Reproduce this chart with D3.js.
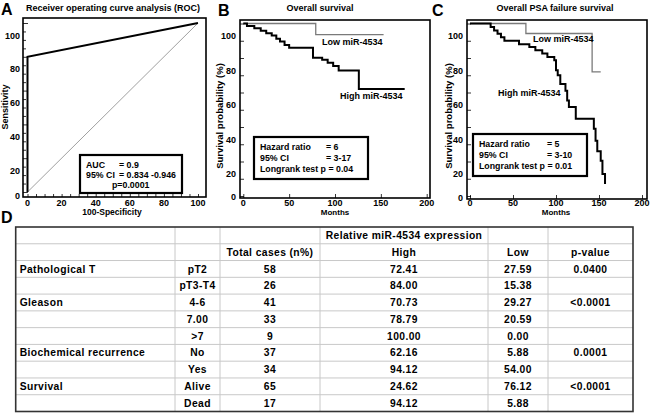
<!DOCTYPE html>
<html><head><meta charset="utf-8">
<script src="https://cdn.jsdelivr.net/npm/d3@7"></script>
<style>
body{margin:0;background:#fff;}
svg{display:block;font-family:"Liberation Sans",Arial,sans-serif;font-weight:bold;}
</style></head>
<body><svg id="c" width="650" height="414"></svg>
<script>
// ---------- DATA ----------
const rocPoints = [[0,0],[0,80],[100,100]];
const rocDiagonal = [[0,0],[100,100]];
const rocTicks = [0,20,40,60,80,100];
const rocText = [["AUC","= 0.9"],["95% CI","= 0.834 -0.946"]];
const rocP = "p=0.0001";

const osHigh = [[0,100],[4,98.6],[12,97.2],[19,95.8],[25,94.4],[31,93.0],[36,91.2],[40,89.6],[45,87.6],[50,86.0],[76,80.2],[86,79.0],[92,77.2],[98,75.4],[104,72.8],[126,62.0],[176,62.0]];
const osLow = [[0,100],[79,93.5],[153,93.5]];
const osStats = [["Hazard ratio","= 6"],["95% CI","= 3-17"],["Longrank test p = 0.04",""]];

const psaHigh = [[0,100],[24,98],[28,96],[32,94],[36,92],[40,90],[57,88],[69,86.4],[76,84.5],[84,82.6],[90,80.6],[98,78.7],[100,72.9],[102,70],[105,65],[111,61],[113,55.4],[115,51.6],[123,44.8],[144,39],[146,32],[148,26],[152,20.5],[154,12.8],[157,7]];
const psaLow = [[0,100],[65,94.2],[142,72],[152,72]];
const psaStats = [["Hazard ratio","= 5"],["95% CI","= 3-10"],["Longrank test p = 0.01",""]];

const kmYTicks = [0,20,40,60,80,100];
const kmXTicks = [0,50,100,150,200];

const tableHeader1 = ["","","","Relative miR-4534 expression","",""];
const tableHeader2 = ["","","Total cases (n%)","High","Low","p-value"];
const tableVariable = ["Pathological T","","Gleason","","","Biochemical recurrence","","Survival",""];
const tableGroup = ["pT2","pT3-T4","4-6","7.00",">7","No","Yes","Alive","Dead"];
const tableTotal = ["58","26","41","33","9","37","34","65","17"];
const tableHigh = ["72.41","84.00","70.73","78.79","100.00","62.16","94.12","24.62","94.12"];
const tableLow = ["27.59","15.38","29.27","20.59","0.00","5.88","54.00","76.12","5.88"];
const tablePval = ["0.0400","","<0.0001","","","0.0001","","<0.0001",""];

// ---------- DRAW ----------
const svg = d3.select("#c");

function panelLetter(t,x,y){ svg.append("text").attr("x",x).attr("y",y).attr("font-size",16).text(t); }
function title(t,x,y){ svg.append("text").attr("x",x).attr("y",y).attr("text-anchor","middle").attr("font-size",9).text(t); }

function frame(l,t,r,b){
  svg.append("rect").attr("x",l).attr("y",t).attr("width",r-l).attr("height",b-t)
    .attr("fill","none").attr("stroke","#000").attr("stroke-width",1.6);
}

function yAxisLabels(y, ticks, xRight, bottom){
  svg.append("g").selectAll("text").data(ticks).join("text")
    .attr("x",xRight).attr("text-anchor","end").attr("font-size",9)
    .attr("y",d=>Math.min(y(d)+15.5, bottom+2))
    .text(d=>d);
}

function statBox(x0,y0,w,h,rows,col2x,lh){
  svg.append("rect").attr("x",x0).attr("y",y0).attr("width",w).attr("height",h)
    .attr("fill","#fff").attr("stroke","#000").attr("stroke-width",2.2);
  rows.forEach((r,i)=>{
    svg.append("text").attr("x",x0+6).attr("y",y0+13+i*lh).attr("font-size",8.8).text(r[0]);
    if(r[1]) svg.append("text").attr("x",col2x).attr("y",y0+13+i*lh).attr("font-size",8.8).text(r[1]);
  });
}

// ===== Panel A =====
{
  const L=23,T=18,R=206,B=197;
  const x=d3.scaleLinear().domain([0,100]).range([27.5,198]);
  const y=d3.scaleLinear().domain([0,100]).range([192,23]);
  panelLetter("A",1,15);
  title("Receiver operating curve analysis (ROC)",113,11);
  frame(L,T,R,B);
  svg.append("g").attr("transform",`translate(${L},0)`)
    .call(d3.axisRight(y).tickValues(d3.range(0,101,5)).tickSize(4).tickFormat(""))
    .call(g=>g.select(".domain").remove())
    .call(g=>g.selectAll("line").attr("stroke-width",0.8).attr("x2",d=>d%20===0?5:3));
  svg.append("g").attr("transform",`translate(0,${B})`)
    .call(d3.axisTop(x).tickValues(d3.range(0,101,5)).tickSize(3).tickFormat(""))
    .call(g=>g.select(".domain").remove())
    .call(g=>g.selectAll("line").attr("stroke-width",0.8));
  yAxisLabels(y,rocTicks,20,B);
  svg.append("g").selectAll("text").data(rocTicks).join("text")
    .attr("x",d=>x(d)).attr("y",206).attr("text-anchor","middle").attr("font-size",9).text(d=>d);
  svg.append("text").attr("x",112).attr("y",214.5).attr("text-anchor","middle").attr("font-size",8.5).text("100-Specificity");
  svg.append("text").attr("transform","translate(8,107) rotate(-90)").attr("text-anchor","middle").attr("font-size",9).text("Sensitivity");
  const line=d3.line().x(d=>x(d[0])).y(d=>y(d[1]));
  svg.append("path").attr("d",line(rocDiagonal)).attr("fill","none").attr("stroke","#888").attr("stroke-width",0.8);
  svg.append("path").attr("d",line(rocPoints)).attr("fill","none").attr("stroke","#000").attr("stroke-width",2);
  statBox(80,155,102,38,rocText,119,10);
  svg.append("text").attr("x",112).attr("y",155+33).attr("font-size",8.8).text(rocP);
}

// ===== KM panels =====
function kmPanel(opt){
  const {L,T,R,B,x0,x1,letter,lx,ttl,tx,high,low,stats,box,lowLab,highLab,ytx,xlabX} = opt;
  const x=d3.scaleLinear().domain([0,200]).range([x0,x1]);
  const y=d3.scaleLinear().domain([0,100]).range([196,23.5]);
  panelLetter(letter,lx,16);
  title(ttl,tx,11);
  frame(L,T,R,B);
  svg.append("g").attr("transform",`translate(${L},0)`)
    .call(d3.axisRight(y).tickValues(d3.range(0,101,10)).tickSize(4).tickFormat(""))
    .call(g=>g.select(".domain").remove())
    .call(g=>g.selectAll("line").attr("stroke-width",0.8));
  svg.append("g").attr("transform",`translate(0,${B})`)
    .call(d3.axisTop(x).tickValues(kmXTicks).tickSize(4).tickFormat(""))
    .call(g=>g.select(".domain").remove())
    .call(g=>g.selectAll("line").attr("stroke-width",0.8));
  yAxisLabels(y,kmYTicks,L-4,B);
  svg.append("g").selectAll("text").data(kmXTicks).join("text")
    .attr("x",d=>x(d)).attr("y",206).attr("text-anchor","middle").attr("font-size",9).text(d=>d);
  svg.append("text").attr("x",xlabX).attr("y",214.5).attr("text-anchor","middle").attr("font-size",8).text("Months");
  svg.append("text").attr("transform",`translate(${ytx},116) rotate(-90)`).attr("text-anchor","middle").attr("font-size",9.5).text("Survival probability (%)");
  const line=d3.line().x(d=>x(d[0])).y(d=>y(d[1])).curve(d3.curveStepAfter);
  svg.append("path").attr("d",line(low)).attr("fill","none").attr("stroke","#7a7a7a").attr("stroke-width",1.3);
  svg.append("path").attr("d",line(high)).attr("fill","none").attr("stroke","#000").attr("stroke-width",2);
  svg.append("text").attr("x",lowLab[0]).attr("y",lowLab[1]).attr("font-size",9).text("Low miR-4534");
  svg.append("text").attr("x",highLab[0]).attr("y",highLab[1]).attr("font-size",9).text("High miR-4534");
  statBox(box[0],box[1],box[2],box[3],stats,box[4],11);
}

kmPanel({L:240,T:20,R:430,B:198,x0:243.3,x1:426.7,letter:"B",lx:218,ttl:"Overall survival",tx:320,
  high:osHigh,low:osLow,stats:osStats,box:[254,137,114,42,326],lowLab:[322,45],highLab:[340,99],ytx:223,xlabX:335});
kmPanel({L:467,T:20,R:647,B:199,x0:470,x1:642,letter:"C",lx:432,ttl:"Overall PSA failure survival",tx:555,
  high:psaHigh,low:psaLow,stats:psaStats,box:[473,134,114,42,547],lowLab:[533,42],highLab:[498,96],ytx:452,xlabX:556});

// ===== Panel D: table =====
{
  panelLetter("D",1,223);
  const colX=[15.7,175,220,320,488,548,633];
  const rows=[tableHeader1,tableHeader2].concat(tableVariable.map((v,i)=>[v,tableGroup[i],tableTotal[i],tableHigh[i],tableLow[i],tablePval[i]]));
  const top=227, bottom=411.5, rh=(bottom-top)/rows.length;
  const g=svg.append("g");
  rows.forEach((r,i)=>{ if(i>0) g.append("line").attr("x1",colX[0]).attr("x2",colX[6]).attr("y1",top+i*rh).attr("y2",top+i*rh).attr("stroke","#c8c8c8").attr("stroke-width",1); });
  colX.slice(1,6).forEach(cx=>g.append("line").attr("x1",cx).attr("x2",cx).attr("y1",top).attr("y2",bottom).attr("stroke","#c8c8c8").attr("stroke-width",1));
  g.append("rect").attr("x",colX[0]).attr("y",top).attr("width",colX[6]-colX[0]).attr("height",bottom-top)
    .attr("fill","none").attr("stroke","#333").attr("stroke-width",1.6);
  rows.forEach((r,i)=>{
    r.forEach((t,j)=>{
      if(!t) return;
      const left = j===0;
      g.append("text")
        .attr("x", left ? colX[0]+4 : (colX[j]+colX[j+1])/2)
        .attr("y", top+i*rh+rh/2+3.7)
        .attr("text-anchor", left?"start":"middle")
        .attr("font-size",10.3).attr("letter-spacing",0.4)
        .text(t);
    });
  });
}
</script></body></html>
